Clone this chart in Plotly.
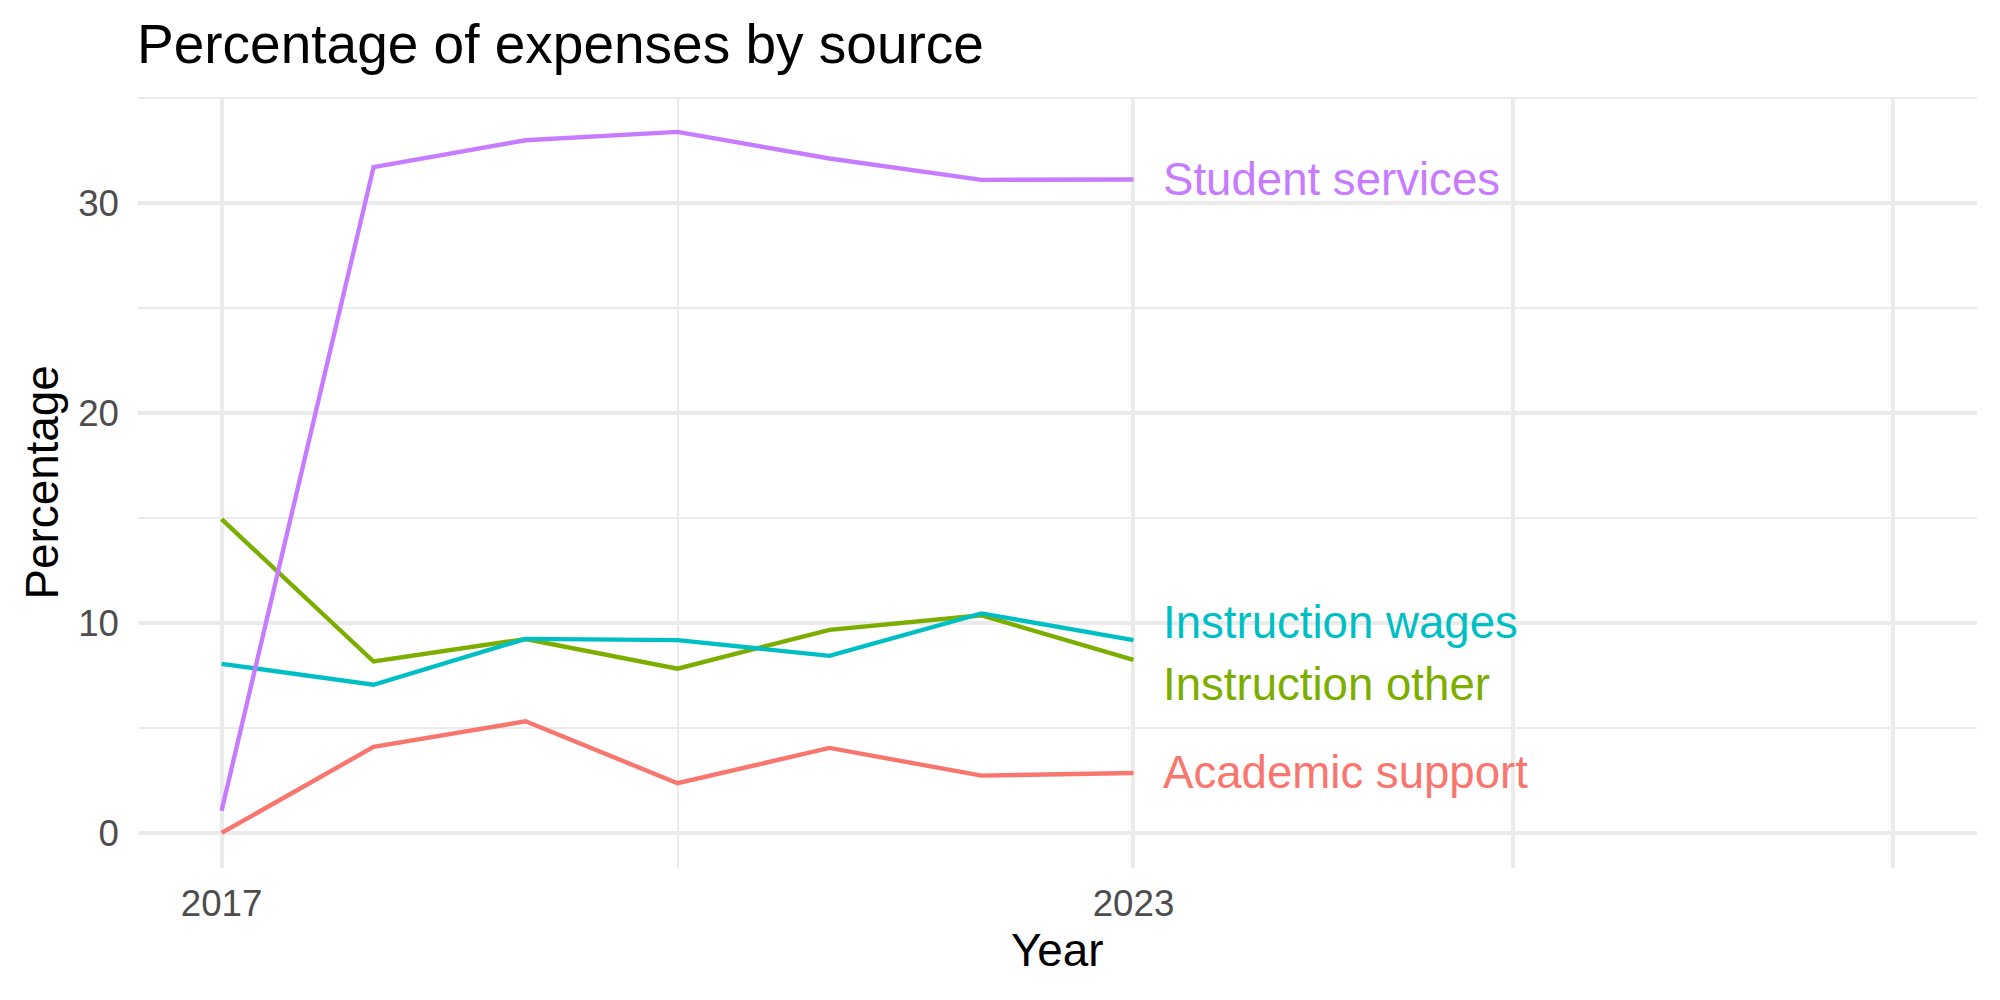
import plotly.graph_objects as go

# ---- data ----
years = [2017, 2018, 2019, 2020, 2021, 2022, 2023]
series_names = ["Academic support", "Instruction other", "Instruction wages", "Student services"]
academic_support = [0.0, 4.10, 5.32, 2.37, 4.05, 2.73, 2.86]
instruction_other = [14.95, 8.17, 9.24, 7.83, 9.68, 10.37, 8.25]
instruction_wages = [8.06, 7.06, 9.25, 9.19, 8.44, 10.46, 9.19]
student_services = [1.06, 31.73, 33.01, 33.41, 32.14, 31.12, 31.14]
x_tick_vals = [2017, 2023, 2025.5, 2028]
x_tick_text = ["2017", "2023", "", ""]
y_tick_vals = [0, 10, 20, 30]

# ---- style / layout constants ----
colors = {"Academic support": "#F8766D", "Instruction other": "#7CAE00",
          "Instruction wages": "#00BFC4", "Student services": "#C77CFF"}
label_nudge_y = {"Academic support": 0.0, "Instruction other": -1.18,
                 "Instruction wages": 0.86, "Student services": 0.0}
label_nudge_x = 0.18
FONT = "Liberation Sans, Arial, Helvetica, sans-serif"
GRID = "#EBEBEB"

values = {"Academic support": academic_support, "Instruction other": instruction_other,
          "Instruction wages": instruction_wages, "Student services": student_services}

fig = go.Figure()
for name in series_names:
    fig.add_trace(go.Scatter(x=years, y=values[name], mode="lines", name=name,
                             line=dict(color=colors[name], width=4.4),
                             showlegend=False, hoverinfo="skip"))

annotations = []
for name in series_names:
    annotations.append(dict(x=years[-1] + label_nudge_x, y=values[name][-1] + label_nudge_y[name],
                            xref="x", yref="y", text=name, showarrow=False,
                            xanchor="left", yanchor="middle",
                            font=dict(family=FONT, size=45.6, color=colors[name])))
annotations.append(dict(x=0.5, y=0, xref="paper", yref="paper", text="Year", showarrow=False,
                        xanchor="center", yanchor="middle", yshift=-82,
                        font=dict(family=FONT, size=45.8, color="#000000")))
annotations.append(dict(x=0, y=0.5, xref="paper", yref="paper", text="Percentage", showarrow=False,
                        xanchor="center", yanchor="middle", xshift=-96, textangle=-90,
                        font=dict(family=FONT, size=45.8, color="#000000")))

fig.update_layout(
    width=2000, height=1000,
    margin=dict(l=138, r=23, t=97, b=132, pad=0),
    paper_bgcolor="white", plot_bgcolor="white",
    font=dict(family=FONT),
    title=dict(text="Percentage of expenses by source", x=0.0685, xanchor="left", xref="container",
               y=1 - 44 / 1000, yanchor="middle", yref="container",
               font=dict(family=FONT, size=55, color="#000000")),
    annotations=annotations,
    xaxis=dict(range=[2016.45, 2028.55], tickmode="array", tickvals=x_tick_vals, ticktext=x_tick_text,
               showgrid=True, gridcolor=GRID, gridwidth=3.5, zeroline=False, showline=False,
               ticks="", ticklabelstandoff=10,
               tickfont=dict(family=FONT, size=36.7, color="#4D4D4D"),
               minor=dict(tickmode="array", tickvals=[2020], showgrid=True, gridcolor=GRID,
                          gridwidth=1.8, ticks="")),
    yaxis=dict(range=[-1.67, 35.07], tickmode="array", tickvals=y_tick_vals,
               ticktext=[str(v) for v in y_tick_vals],
               showgrid=True, gridcolor=GRID, gridwidth=3.5, zeroline=False, showline=False,
               ticks="", ticklabelstandoff=18,
               tickfont=dict(family=FONT, size=36.7, color="#4D4D4D"),
               minor=dict(tickmode="array", tickvals=[5, 15, 25, 35], showgrid=True,
                          gridcolor=GRID, gridwidth=1.8, ticks="")),
)

fig.write_html("out.html")
